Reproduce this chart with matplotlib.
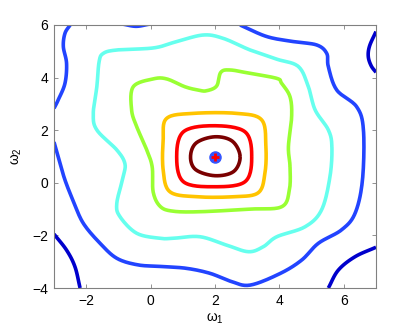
import numpy as np
import matplotlib
matplotlib.use('Agg')
import matplotlib.pyplot as plt

plt.rcParams['font.family'] = ['Liberation Sans', 'DejaVu Sans']
plt.rcParams['mathtext.fontset'] = 'custom'
plt.rcParams['mathtext.rm'] = 'Liberation Sans'
plt.rcParams['mathtext.it'] = 'Liberation Sans:italic'

# contour lines (data coords), innermost first
maroon_x = [2.78, 2.54, 2.0, 1.42, 1.24, 1.40, 2.0, 2.58]
maroon_y = [1.0, 1.58, 1.75, 1.52, 1.0, 0.50, 0.27, 0.43]

red_x = [3.14, 2.93, 1.95, 1.02, 0.81, 1.02, 1.95, 2.93]
red_y = [0.99, 1.94, 2.17, 1.94, 0.99, 0.04, -0.15, 0.04]

orange_x = [3.58, 3.45, 2.67, 1.33, 0.50, 0.39, 0.39, 0.60, 1.43, 2.57, 3.34, 3.55]
orange_y = [1.37, 2.39, 2.64, 2.64, 2.45, 1.63, 0.49, -0.34, -0.53, -0.53, -0.38, 0.36]

green_x = [4.33, 4.28, 4.38, 4.33, 4.07, 3.92, 3.09, 2.47, 2.18, 2.05, 1.74, 1.50, 1.07,
           0.50, 0.08, -0.54, -0.59, -0.43, -0.12, 0.05, 0.08, 0.30, 0.70, 1.53, 3.09,
           4.07, 4.31]
green_y = [0.61, 1.37, 2.51, 3.27, 3.78, 3.97, 4.16, 4.29, 4.20, 3.68, 3.50, 3.52, 3.65,
           3.95, 3.95, 3.65, 2.77, 2.13, 1.25, 0.60, -0.35, -0.90, -1.08, -1.10, -1.00,
           -0.91, -0.27]

cyan_x = [5.63, 5.52, 5.11, 4.90, 4.59, 3.92, 3.09, 2.26, 1.64, 0.81, 0.10, -1.05, -1.47,
          -1.60, -1.67, -1.78, -1.67, -1.05, -0.80, -0.85, -1.05, -0.95, -0.43, 0.29, 0.70,
          1.53, 2.36, 3.04, 3.50, 3.92, 4.80, 5.31, 5.57]
cyan_y = [1.37, 2.01, 2.77, 3.65, 4.42, 4.70, 5.05, 5.49, 5.62, 5.37, 5.13, 5.05, 4.92,
          4.60, 3.65, 2.64, 2.01, 1.25, 0.74, 0.23, -0.78, -1.29, -1.92, -2.11, -2.11,
          -2.05, -2.37, -2.62, -2.43, -2.05, -1.67, -1.03, 0.23]

blue_x = [-3.0, -2.85, -2.66, -2.40, -2.09, -1.57, -1.05, -0.40, 0.30, 1.10, 1.84, 2.50,
          3.09, 4.02, 4.69, 5.21, 5.93, 6.35, 6.58, 6.61, 6.40, 5.78, 5.52, 5.47, 5.16,
          4.43, 3.61, 2.78]
blue_y = [1.55, 0.90, 0.11, -0.70, -1.54, -2.30, -2.87, -3.12, -3.18, -3.25, -3.44, -3.75,
          -3.89, -3.45, -2.94, -2.30, -1.79, -1.16, 0.11, 2.01, 2.89, 3.53, 4.41, 4.92, 5.24,
          5.37, 5.56, 6.0]
blue_tl_x = [-2.50, -2.66, -2.71, -2.61, -2.66, -2.87, -3.0]
blue_tl_y = [6.0, 5.68, 5.18, 4.54, 3.78, 3.15, 2.83]
blue_top_x = [-0.85, -0.45, -0.05]
blue_top_y = [6.03, 5.95, 6.03]

dblue_tr_x = [7.0, 6.80, 6.76, 6.85, 7.0]
dblue_tr_y = [5.75, 5.20, 4.80, 4.45, 4.20]
dblue_br_x = [7.0, 6.35, 5.83, 5.52]
dblue_br_y = [-2.45, -2.81, -3.32, -4.0]
dblue_bl_x = [-3.0, -2.61, -2.35, -2.19]
dblue_bl_y = [-1.95, -2.56, -3.19, -4.0]

center = (2.0, 1.0)


def smooth(xs, ys, closed, n=16):
    # Catmull-Rom through the read points, only for drawing a smooth line
    p = np.column_stack([xs, ys]).astype(float)
    if closed:
        p = np.vstack([p[-1], p, p[0], p[1]])
    else:
        p = np.vstack([2 * p[0] - p[1], p, 2 * p[-1] - p[-2]])
    t = np.linspace(0, 1, n, endpoint=False)[:, None]
    segs = []
    for i in range(1, len(p) - 2):
        p0, p1, p2, p3 = p[i - 1], p[i], p[i + 1], p[i + 2]
        segs.append(0.5 * (2 * p1 + (-p0 + p2) * t
                           + (2 * p0 - 5 * p1 + 4 * p2 - p3) * t ** 2
                           + (-p0 + 3 * p1 - 3 * p2 + p3) * t ** 3))
    segs.append(p[-2][None])
    c = np.vstack(segs)
    return c[:, 0], c[:, 1]


lines = [
    (dblue_tr_x, dblue_tr_y, False, '#0000CC'),
    (dblue_br_x, dblue_br_y, False, '#0000CC'),
    (dblue_bl_x, dblue_bl_y, False, '#0000CC'),
    (blue_x, blue_y, False, '#2244FF'),
    (blue_tl_x, blue_tl_y, False, '#2244FF'),
    (blue_top_x, blue_top_y, False, '#2244FF'),
    (cyan_x, cyan_y, True, '#66FFEE'),
    (green_x, green_y, True, '#99FF33'),
    (orange_x, orange_y, True, '#FFC400'),
    (red_x, red_y, True, '#FF0000'),
    (maroon_x, maroon_y, True, '#7A0000'),
]

fig = plt.figure(figsize=(4.15, 3.32), dpi=100)
ax = fig.add_axes([54 / 415, 1 - 288 / 332, 322 / 415, 263 / 332])

for xs, ys, closed, col in lines:
    sx, sy = smooth(xs, ys, closed)
    ax.plot(sx, sy, color=col, lw=2.6, solid_capstyle='butt', solid_joinstyle='round')

ax.plot(center[0], center[1], 'o', color='#3355FF', ms=8, mec='#3355FF')
ax.plot(center[0], center[1], '+', color='red', ms=5.5, mew=2.0)

ax.set_xlim(-3, 7)
ax.set_ylim(-4, 6)
ax.set_xticks([-2, 0, 2, 4, 6])
ax.set_yticks([-4, -2, 0, 2, 4, 6])
ax.tick_params(direction='in', length=3, width=0.6, color='#808080',
               top=True, right=True, labelsize=10, pad=4)
for s in ax.spines.values():
    s.set_color('#808080')
    s.set_linewidth(0.8)

ax.set_xlabel(r'$\mathregular{\omega_1}$', fontsize=10, labelpad=3)
ax.set_ylabel(r'$\mathregular{\omega_2}$', fontsize=10, labelpad=6)

fig.savefig('out.png', dpi=100)
